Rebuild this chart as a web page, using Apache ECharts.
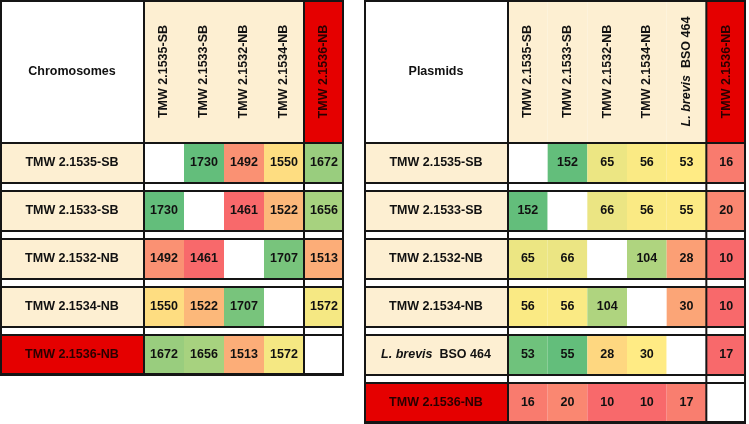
<!DOCTYPE html>
<html>
<head>
<meta charset="utf-8">
<script src="https://cdn.jsdelivr.net/npm/echarts@6/dist/echarts.min.js"></script>
<style>html,body{margin:0;padding:0;background:#fff}#c{width:749px;height:424px}</style>
</head>
<body>
<div id="c"></div>
<script>
// ---------- data ----------
const chromoTitle = 'Chromosomes';
const chromoStrains = ['TMW 2.1535-SB', 'TMW 2.1533-SB', 'TMW 2.1532-NB', 'TMW 2.1534-NB', 'TMW 2.1536-NB'];
const chromoValues = [
  [null, 1730, 1492, 1550, 1672],
  [1730, null, 1461, 1522, 1656],
  [1492, 1461, null, 1707, 1513],
  [1550, 1522, 1707, null, 1572],
  [1672, 1656, 1513, 1572, null]
];
const plasmidTitle = 'Plasmids';
const plasmidStrains = ['TMW 2.1535-SB', 'TMW 2.1533-SB', 'TMW 2.1532-NB', 'TMW 2.1534-NB', 'L. brevis BSO 464', 'TMW 2.1536-NB'];
const plasmidValues = [
  [null, 152, 65, 56, 53, 16],
  [152, null, 66, 56, 55, 20],
  [65, 66, null, 104, 28, 10],
  [56, 56, 104, null, 30, 10],
  [53, 55, 28, 30, null, 17],
  [16, 20, 10, 10, 17, null]
];
// rows whose colour scale is computed on the row alone (as in the reference)
const plasmidRowScaled = [false, false, false, false, true, false];

// ---------- styling ----------
const FONT_FAMILY = '"Liberation Sans", Arial, sans-serif';
const FS = 12.5;
const FONT = 'bold ' + FS + 'px ' + FONT_FAMILY;
const RED = '#e50000';
const CREAM = '#fdefd2';
const C_MIN = [248, 105, 107], C_MID = [255, 235, 132], C_MAX = [99, 190, 123];

function lerp(a, b, t) {
  t = Math.max(0, Math.min(1, t));
  return 'rgb(' + a.map((v, i) => Math.round(v + (b[i] - v) * t)).join(',') + ')';
}
function median(arr) {
  const s = arr.slice().sort((a, b) => a - b);
  const n = s.length;
  return n % 2 ? s[(n - 1) / 2] : (s[n / 2 - 1] + s[n / 2]) / 2;
}
function makeScale(vals) {
  const min = Math.min.apply(null, vals), max = Math.max.apply(null, vals), mid = median(vals);
  return v => v <= mid ? lerp(C_MIN, C_MID, (v - min) / (mid - min || 1))
                       : lerp(C_MID, C_MAX, (v - mid) / (max - mid || 1));
}
function flat(m) { const o = []; m.forEach(r => r.forEach(v => { if (v != null) o.push(v); })); return o; }

// ---------- layout (px) ----------
const HEADER_H = 143, ROW_H = 40, GAP_H = 8, LABEL_W = 144;

function labelText(s) {
  if (s.indexOf('L. brevis') === 0) {
    return { text: '{i|L. brevis}  {b|' + s.slice(10) + '}', rich: true };
  }
  return { text: s, rich: false };
}
function textStyle(s, fill) {
  const lt = labelText(s);
  const st = { text: lt.text, x: 0, y: 0, align: 'center', verticalAlign: 'middle', fill: fill, font: FONT };
  if (lt.rich) {
    st.rich = {
      i: { fontStyle: 'italic', fontWeight: 'bold', fontSize: FS, fontFamily: FONT_FAMILY, fill: fill },
      b: { fontWeight: 'bold', fontSize: FS, fontFamily: FONT_FAMILY, fill: fill }
    };
  }
  return st;
}

function buildTable(idx, left, width, title, strains, values, rowScaled) {
  const n = strains.length;
  const cellW = (width - LABEL_W) / n;
  const H = HEADER_H + n * ROW_H + (n - 1) * GAP_H;
  const globalScale = makeScale(flat(values));
  const rowScales = values.map((r, i) => rowScaled && rowScaled[i] ? makeScale(r.filter(v => v != null)) : globalScale);
  const hl = n - 1; // highlighted (red) strain

  const xOf = c => c < 0 ? 0 : LABEL_W + c * cellW;
  const wOf = c => c < 0 ? LABEL_W : cellW;
  const yOf = r => r < 0 ? 0 : HEADER_H + r * (ROW_H + GAP_H);
  const hOf = r => r < 0 ? HEADER_H : ROW_H;

  // items: [col, row]  (col -1 = label column, row -1 = header row)
  const items = [[-1, -1]];
  for (let c = 0; c < n; c++) items.push([c, -1]);
  for (let r = 0; r < n; r++) { items.push([-1, r]); for (let c = 0; c < n; c++) items.push([c, r]); }

  function renderCell(params, api) {
    const c = api.value(0), r = api.value(1);
    const x0 = xOf(c), y0 = yOf(r);
    const p0 = api.coord([x0, y0]), p1 = api.coord([x0 + wOf(c), y0 + hOf(r)]);
    const rect = { x: p0[0], y: p0[1], width: p1[0] - p0[0], height: p1[1] - p0[1] };
    const cx = (p0[0] + p1[0]) / 2, cy = (p0[1] + p1[1]) / 2;
    let fill = '#fff', txt = null, txtFill = '#111', rot = 0;
    if (r < 0 && c < 0) { fill = '#fff'; txt = title; }
    else if (r < 0) { fill = c === hl ? RED : CREAM; txt = strains[c]; rot = Math.PI / 2; txtFill = c === hl ? '#2a0000' : '#111'; }
    else if (c < 0) { fill = r === hl ? RED : CREAM; txt = strains[r]; txtFill = r === hl ? '#2a0000' : '#111'; }
    else {
      const v = values[r][c];
      if (v == null) fill = '#fff';
      else { fill = rowScales[r](v); txt = String(v); }
    }
    const children = [{ type: 'rect', shape: rect, style: { fill: fill } }];
    if (txt != null) children.push({ type: 'text', x: cx, y: cy, rotation: rot, style: textStyle(txt, txtFill) });
    return { type: 'group', children: children };
  }

  function renderFrame(params, api) {
    const lines = [];
    const hLine = (y, w) => { const a = api.coord([0, y]), b = api.coord([width, y]); lines.push({ type: 'line', shape: { x1: a[0], y1: a[1], x2: b[0], y2: b[1] }, style: { stroke: '#151515', lineWidth: w } }); };
    const vLine = (x, w) => { const a = api.coord([x, 0]), b = api.coord([x, H]); lines.push({ type: 'line', shape: { x1: a[0], y1: a[1], x2: b[0], y2: b[1] }, style: { stroke: '#151515', lineWidth: w } }); };
    hLine(HEADER_H, 2);
    for (let r = 0; r < n; r++) { hLine(yOf(r), 2); hLine(yOf(r) + ROW_H, 2); }
    vLine(LABEL_W, 2);
    vLine(LABEL_W + (n - 1) * cellW, 2);
    const a = api.coord([0, 0]), b = api.coord([width, H]);
    lines.push({ type: 'rect', shape: { x: a[0] + 1, y: a[1] + 1, width: b[0] - a[0] - 2, height: b[1] - a[1] - 2 }, style: { fill: null, stroke: '#151515', lineWidth: 2 } });
    return { type: 'group', children: lines };
  }

  return {
    grid: { left: left, top: 0, width: width, height: H },
    xAxis: { type: 'value', gridIndex: idx, min: 0, max: width, show: false },
    yAxis: { type: 'value', gridIndex: idx, min: 0, max: H, inverse: true, show: false },
    series: [
      { type: 'custom', xAxisIndex: idx, yAxisIndex: idx, data: items, renderItem: renderCell, silent: true, z: 2 },
      { type: 'custom', xAxisIndex: idx, yAxisIndex: idx, data: [[0, 0]], renderItem: renderFrame, silent: true, z: 3 }
    ]
  };
}

const tA = buildTable(0, 0, 344, chromoTitle, chromoStrains, chromoValues, null);
const tB = buildTable(1, 364, 382, plasmidTitle, plasmidStrains, plasmidValues, plasmidRowScaled);

const chart = echarts.init(document.getElementById('c'), null, { renderer: 'canvas' });
chart.setOption({
  animation: false,
  backgroundColor: '#fff',
  grid: [tA.grid, tB.grid],
  xAxis: [tA.xAxis, tB.xAxis],
  yAxis: [tA.yAxis, tB.yAxis],
  series: tA.series.concat(tB.series)
});
</script>
</body>
</html>
